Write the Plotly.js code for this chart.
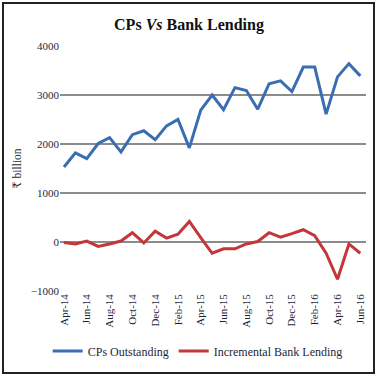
<!DOCTYPE html>
<html><head><meta charset="utf-8">
<script src="https://cdn.plot.ly/plotly-3.0.1.min.js"></script>
<style>
html,body{margin:0;padding:0;background:#fff;}
#frame{position:absolute;left:2px;top:2px;width:369px;height:368px;border:2px solid #222;}
#chart{position:absolute;left:0;top:0;width:378px;height:378px;}
</style></head>
<body>
<div id="frame"></div>
<div id="chart"></div>
<script>
const months = ["Apr-14","May-14","Jun-14","Jul-14","Aug-14","Sep-14","Oct-14","Nov-14","Dec-14","Jan-15","Feb-15","Mar-15",
"Apr-15","May-15","Jun-15","Jul-15","Aug-15","Sep-15","Oct-15","Nov-15","Dec-15","Jan-16","Feb-16","Mar-16","Apr-16","May-16","Jun-16"];
const cpsOutstanding = [1530,1820,1700,2010,2130,1840,2190,2270,2090,2370,2500,1920,
2690,3000,2700,3150,3090,2710,3230,3290,3070,3570,3570,2610,3370,3640,3390];
const bankLending = [-10,-40,20,-90,-40,20,190,-20,220,80,160,420,
90,-230,-140,-140,-40,10,190,100,170,250,130,-230,-760,-40,-230];
const tickLabels = ["Apr-14","Jun-14","Aug-14","Oct-14","Dec-14","Feb-15","Apr-15","Jun-15","Aug-15","Oct-15","Dec-15","Feb-16","Apr-16","Jun-16"];

const font = "Liberation Serif, DejaVu Serif, serif";
const data = [
 {x: months, y: cpsOutstanding, type:'scatter', mode:'lines', name:'CPs Outstanding',
  line:{color:'#3B6DB3', width:3}},
 {x: months, y: bankLending, type:'scatter', mode:'lines', name:'Incremental Bank Lending',
  line:{color:'#C1373A', width:3}}
];
const layout = {
 width:378, height:378,
 paper_bgcolor:'rgba(0,0,0,0)', plot_bgcolor:'rgba(0,0,0,0)',
 margin:{l:60, r:12, t:46, b:82},
 font:{family:font, size:11, color:'#1f1f3a'},
 title:{text:'<b>CPs <i>Vs</i> Bank Lending</b>', x:0.5, xanchor:'center', y:0.935, yanchor:'middle',
  font:{family:font, size:16, color:'#111'}},
 xaxis:{type:'category', categoryorder:'array', categoryarray: months,
  tickmode:'array', tickvals: tickLabels, ticktext: tickLabels, tickangle:-90,
  range:[-0.35, 26.5], showgrid:false, zeroline:false, showline:false, ticks:'',
  tickfont:{family:font, size:11, color:'#1f1f3a'}},
 yaxis:{range:[-1000, 4000], tickvals:[-1000,0,1000,2000,3000,4000],
  showgrid:true, gridcolor:'#8c8c8c', gridwidth:1.5, zeroline:false, showline:false, ticks:'',
  tickfont:{family:font, size:11, color:'#1f1f3a'},
  title:{text:'₹ billion', standoff:6, font:{family:font, size:11.5, color:'#1f1f3a'}}},
 showlegend:true,
 legend:{orientation:'h', x:0.45, xanchor:'center', y:-0.245, yanchor:'middle',
  font:{family:font, size:12, color:'#1f1f3a'}, itemwidth:30, tracegroupgap:0}
};
Plotly.newPlot('chart', data, layout, {displayModeBar:false, staticPlot:true});
</script>
</body></html>
